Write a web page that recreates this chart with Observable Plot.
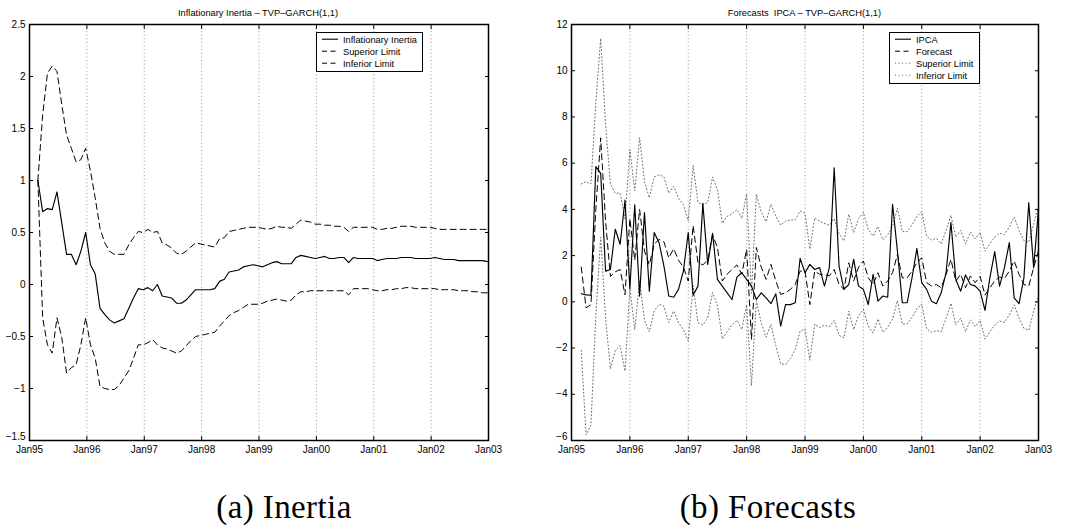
<!DOCTYPE html>
<html><head><meta charset="utf-8">
<script src="https://cdn.jsdelivr.net/npm/d3@7"></script>
<script src="https://cdn.jsdelivr.net/npm/@observablehq/plot@0.6"></script>
<style>
body{margin:0;background:#fff;}
#wrap{position:relative;width:1066px;height:531px;overflow:hidden;background:#fff;font-family:"Liberation Sans",Arial,sans-serif;color:#000;}
.panel{position:absolute;top:0;}
.title{position:absolute;top:8px;font-size:9.3px;line-height:10px;white-space:pre;transform:translateX(-50%);}
.legend{position:absolute;box-sizing:border-box;background:#fff;border:1.3px solid #000;}
.legend svg{display:block;}
.caption{position:absolute;top:491px;font-family:"Liberation Serif","Times New Roman",serif;font-size:33px;line-height:33px;letter-spacing:0.4px;white-space:pre;transform:translateX(-50%);}
</style></head>
<body><div id="wrap"></div>
<script>
const monthTicks = [0,12,24,36,48,60,72,84,96];
const monthLabels = ["Jan95","Jan96","Jan97","Jan98","Jan99","Jan00","Jan01","Jan02","Jan03"];

// Panel (a): Inflationary Inertia, monthly from ~Feb95
const inertiaStart = 1.75;
const inertia = [1.00,0.70,0.73,0.72,0.89,0.59,0.29,0.29,0.19,0.32,
 0.50,0.19,0.10,-0.23,-0.29,-0.34,-0.37,-0.35,-0.33,-0.23,
 -0.13,-0.04,-0.05,-0.03,-0.06,0.00,-0.11,-0.12,-0.13,-0.18,
 -0.18,-0.15,-0.10,-0.05,-0.05,-0.05,-0.05,-0.04,0.03,0.05,
 0.12,0.13,0.14,0.17,0.18,0.19,0.18,0.17,0.19,0.21,
 0.22,0.20,0.20,0.20,0.26,0.28,0.27,0.26,0.25,0.26,
 0.27,0.25,0.25,0.26,0.26,0.21,0.26,0.25,0.25,0.25,
 0.25,0.23,0.24,0.25,0.25,0.25,0.26,0.26,0.26,0.25,
 0.25,0.25,0.25,0.26,0.25,0.24,0.24,0.24,0.23,0.23,
 0.23,0.23,0.23,0.23,0.22];
const inertiaUpper = [1.00,1.63,2.03,2.10,2.05,1.73,1.44,1.31,1.18,1.20,
 1.31,1.09,0.83,0.54,0.40,0.32,0.29,0.29,0.29,0.38,
 0.45,0.51,0.50,0.53,0.50,0.51,0.40,0.38,0.35,0.30,
 0.29,0.32,0.36,0.40,0.39,0.38,0.37,0.36,0.44,0.45,
 0.51,0.52,0.53,0.54,0.55,0.55,0.55,0.54,0.53,0.54,
 0.56,0.55,0.55,0.54,0.58,0.62,0.61,0.60,0.58,0.58,
 0.57,0.57,0.56,0.56,0.55,0.51,0.55,0.55,0.55,0.55,
 0.55,0.53,0.53,0.54,0.54,0.55,0.56,0.56,0.56,0.55,
 0.55,0.55,0.55,0.54,0.53,0.53,0.53,0.53,0.53,0.53,
 0.53,0.53,0.53,0.53,0.53];
const inertiaLower = [1.00,-0.32,-0.58,-0.66,-0.32,-0.51,-0.85,-0.80,-0.77,-0.58,
 -0.32,-0.58,-0.71,-0.98,-1.00,-1.01,-1.01,-0.97,-0.90,-0.83,
 -0.71,-0.58,-0.58,-0.56,-0.53,-0.58,-0.61,-0.62,-0.64,-0.66,
 -0.64,-0.59,-0.54,-0.50,-0.49,-0.48,-0.47,-0.46,-0.40,-0.35,
 -0.30,-0.27,-0.25,-0.22,-0.19,-0.19,-0.19,-0.18,-0.16,-0.15,
 -0.14,-0.15,-0.16,-0.15,-0.10,-0.07,-0.07,-0.06,-0.06,-0.06,
 -0.06,-0.06,-0.06,-0.06,-0.06,-0.10,-0.04,-0.04,-0.04,-0.04,
 -0.05,-0.06,-0.06,-0.05,-0.05,-0.04,-0.04,-0.03,-0.03,-0.04,
 -0.04,-0.04,-0.04,-0.04,-0.05,-0.05,-0.05,-0.05,-0.06,-0.06,
 -0.06,-0.07,-0.07,-0.08,-0.08];
const inertiaTicks = [-1.5,-1,-0.5,0,0.5,1,1.5,2,2.5];

// Panel (b): IPCA forecasts, monthly Mar95..Jan03
const forecastStart = 2;
const ipca = [0.35,0.30,0.29,5.85,5.56,1.33,1.40,3.14,2.49,4.40,
 0.58,4.20,0.25,3.86,0.46,3.00,2.56,1.55,0.25,0.20,
 0.54,1.33,3.00,0.29,0.68,4.26,1.62,2.96,0.97,0.68,
 0.39,0.10,1.07,1.26,0.97,0.68,0.10,0.39,0.17,-0.08,
 0.35,-1.05,-0.12,-0.12,-0.04,1.88,1.26,1.62,1.40,1.48,
 0.68,1.48,5.80,1.55,0.54,0.75,1.84,0.68,0.54,-0.12,
 1.19,0.03,0.25,0.20,4.22,2.20,-0.04,-0.04,1.04,2.31,
 0.83,0.54,0.03,-0.08,0.39,1.26,3.43,0.97,0.46,1.16,
 0.75,0.68,0.46,-0.37,1.04,2.17,0.68,1.48,2.56,0.17,
 -0.08,1.04,4.29,1.48,4.00];
const forecast = [1.50,-0.26,-0.12,4.00,7.10,3.50,1.10,1.30,1.40,0.30,
 3.60,1.80,4.00,2.20,1.60,2.50,2.70,2.60,1.90,2.30,
 1.80,1.50,0.90,3.30,1.70,1.60,1.80,2.90,2.35,0.90,
 1.20,1.40,1.60,1.20,2.27,-1.63,2.35,1.50,0.97,1.62,
 0.90,0.32,0.39,0.54,0.75,1.33,1.33,-0.12,1.33,1.19,
 1.19,1.12,1.40,0.75,0.54,1.69,0.90,1.50,1.77,1.04,
 0.75,1.26,0.68,0.90,1.26,2.05,1.04,1.04,1.33,1.69,
 1.91,0.83,0.68,0.75,0.61,1.19,1.84,0.90,1.19,0.61,
 1.12,0.83,1.10,0.29,0.61,0.90,1.07,1.01,1.33,1.77,
 1.19,0.75,0.68,1.48,2.20];
const forecastUpper = [5.10,5.20,5.10,8.60,11.40,7.70,5.10,4.70,4.70,3.60,
 6.60,4.80,7.10,5.20,4.50,5.40,5.50,5.40,4.70,5.00,
 4.50,4.20,3.50,5.90,4.30,4.20,4.30,5.40,4.85,3.40,
 3.70,3.80,4.00,3.60,4.67,0.37,4.65,3.90,3.47,4.22,
 3.70,3.32,3.49,3.54,3.55,3.93,3.83,2.28,3.63,3.49,
 3.39,3.32,3.60,2.95,2.64,3.79,3.00,3.60,3.87,3.14,
 2.85,3.26,2.68,2.90,3.26,4.05,3.04,3.04,3.33,3.69,
 3.91,2.83,2.68,2.75,2.51,3.09,3.74,2.80,3.09,2.51,
 3.02,2.73,3.00,2.19,2.51,2.80,2.97,2.91,3.23,3.67,
 3.09,2.65,2.58,3.38,4.10];
const forecastLower = [-2.10,-5.76,-5.32,-0.60,2.80,-0.70,-2.90,-2.10,-1.90,-3.00,
 0.60,-1.20,0.90,-0.80,-1.30,-0.40,-0.10,-0.20,-0.90,-0.40,
 -0.90,-1.20,-1.70,0.70,-0.90,-1.00,-0.70,0.40,-0.15,-1.60,
 -1.30,-1.00,-0.80,-1.20,-0.13,-3.63,0.05,-0.90,-1.53,-0.98,
 -1.90,-2.68,-2.71,-2.46,-2.05,-1.27,-1.17,-2.52,-0.97,-1.11,
 -1.01,-1.08,-0.80,-1.45,-1.56,-0.41,-1.20,-0.60,-0.33,-1.06,
 -1.35,-0.74,-1.32,-1.10,-0.74,0.05,-0.96,-0.96,-0.67,-0.31,
 -0.09,-1.17,-1.32,-1.25,-1.29,-0.71,-0.06,-1.00,-0.71,-1.29,
 -0.78,-1.07,-0.80,-1.61,-1.29,-1.00,-0.83,-0.89,-0.57,-0.13,
 -0.71,-1.15,-1.22,-0.42,0.30];
const forecastTicks = [-6,-4,-2,0,2,4,6,8,10,12];

const toRows = (arr, start) => arr.map((v, k) => ({m: start + k, v}));
const fmtNum = d => String(d).replace("-", "\u2212");
const fmtMonth = d => monthLabels[monthTicks.indexOf(d)];

const DASH = "6,4", DOT = "1,2.5", GREY = "#6a6a6a";

function panel({lines, yDomain, yTicks, marginLeft, marginRight}) {
  return Plot.plot({
    width: 533, height: 466,
    marginTop: 24, marginBottom: 26, marginLeft, marginRight,
    style: {fontFamily: '"Liberation Sans", Arial, sans-serif', fontSize: "10px", color: "#000", background: "transparent", overflow: "visible"},
    x: {domain: [0, 96]},
    y: {domain: yDomain},
    marks: [
      Plot.ruleX(monthTicks.slice(1, -1), {stroke: "#8a8a8a", strokeWidth: 0.9, strokeDasharray: "1,2.6"}),
      ...lines.map(l => Plot.line(l.data, {x: "m", y: "v", stroke: l.stroke, strokeWidth: l.width, strokeDasharray: l.dash})),
      Plot.frame({stroke: "#000", strokeWidth: 1.5}),
      Plot.axisX({anchor: "bottom", ticks: monthTicks, tickSize: -4, tickPadding: 9, tickFormat: fmtMonth, label: null}),
      Plot.axisX({anchor: "top", ticks: monthTicks, tickSize: -4, tickFormat: () => "", label: null}),
      Plot.axisY({anchor: "left", ticks: yTicks.slice(1), tickSize: -4, tickPadding: 8, tickFormat: fmtNum, label: null}),
      Plot.axisY({anchor: "left", ticks: yTicks.slice(0, 1), tickSize: 0, tickPadding: 4, dy: -4, tickFormat: fmtNum, label: null}),
      Plot.axisY({anchor: "right", ticks: yTicks, tickSize: -4, tickFormat: () => "", label: null})
    ]
  });
}

const wrap = document.getElementById("wrap");

const chartA = panel({
  lines: [
    {data: toRows(inertiaUpper, inertiaStart), stroke: "#000", width: 1, dash: DASH},
    {data: toRows(inertiaLower, inertiaStart), stroke: "#000", width: 1, dash: DASH},
    {data: toRows(inertia, inertiaStart), stroke: "#000", width: 1.15, dash: null}
  ],
  yDomain: [-1.5, 2.5], yTicks: inertiaTicks, marginLeft: 29, marginRight: 45
});
chartA.classList.add("panel"); chartA.style.left = "0px";
wrap.appendChild(chartA);

const chartB = panel({
  lines: [
    {data: toRows(forecastUpper, forecastStart), stroke: GREY, width: 1, dash: DOT},
    {data: toRows(forecastLower, forecastStart), stroke: GREY, width: 1, dash: DOT},
    {data: toRows(forecast, forecastStart), stroke: "#000", width: 1, dash: DASH},
    {data: toRows(ipca, forecastStart), stroke: "#000", width: 1.15, dash: null}
  ],
  yDomain: [-6, 12], yTicks: forecastTicks, marginLeft: 38, marginRight: 28
});
chartB.classList.add("panel"); chartB.style.left = "533px";
wrap.appendChild(chartB);

function addDiv(cls, text, left, extra) {
  const d = document.createElement("div");
  d.className = cls; d.textContent = text; d.style.left = left + "px";
  if (extra) Object.assign(d.style, extra);
  wrap.appendChild(d);
  return d;
}
addDiv("title", "Inflationary Inertia \u2013 TVP\u2013GARCH(1,1)", 258);
addDiv("title", "Forecasts  IPCA \u2013 TVP\u2013GARCH(1,1)", 804.5);
addDiv("caption", "(a) Inertia", 284);
addDiv("caption", "(b) Forecasts", 768);

function legend(items, left, top, w, h) {
  const ns = "http://www.w3.org/2000/svg";
  const box = document.createElement("div");
  box.className = "legend";
  Object.assign(box.style, {left: left + "px", top: top + "px", width: w + "px", height: h + "px"});
  const svg = document.createElementNS(ns, "svg");
  svg.setAttribute("width", w - 2.6); svg.setAttribute("height", h - 2.6);
  items.forEach((it, i) => {
    const y = 6.2 + i * 12;
    const ln = document.createElementNS(ns, "line");
    ln.setAttribute("x1", 5); ln.setAttribute("x2", 21);
    ln.setAttribute("y1", y); ln.setAttribute("y2", y);
    ln.setAttribute("stroke", it.stroke); ln.setAttribute("stroke-width", it.width);
    if (it.dash) ln.setAttribute("stroke-dasharray", it.dash);
    svg.appendChild(ln);
    const t = document.createElementNS(ns, "text");
    t.setAttribute("x", 26); t.setAttribute("y", y + 3.3);
    t.setAttribute("font-size", "9.3px");
    t.setAttribute("font-family", '"Liberation Sans", Arial, sans-serif');
    t.textContent = it.label;
    svg.appendChild(t);
  });
  box.appendChild(svg);
  wrap.appendChild(box);
}
legend([
  {label: "Inflationary Inertia", stroke: "#000", width: 1.1, dash: null},
  {label: "Superior Limit", stroke: "#000", width: 1, dash: "5,3.5"},
  {label: "Inferior Limit", stroke: "#000", width: 1, dash: "5,3.5"}
], 316, 32, 107, 40);
legend([
  {label: "IPCA", stroke: "#000", width: 1.1, dash: null},
  {label: "Forecast", stroke: "#000", width: 1, dash: "5,3.5"},
  {label: "Superior Limit", stroke: GREY, width: 1, dash: DOT},
  {label: "Inferior Limit", stroke: GREY, width: 1, dash: DOT}
], 889, 32, 91, 52);
</script>
</body></html>
